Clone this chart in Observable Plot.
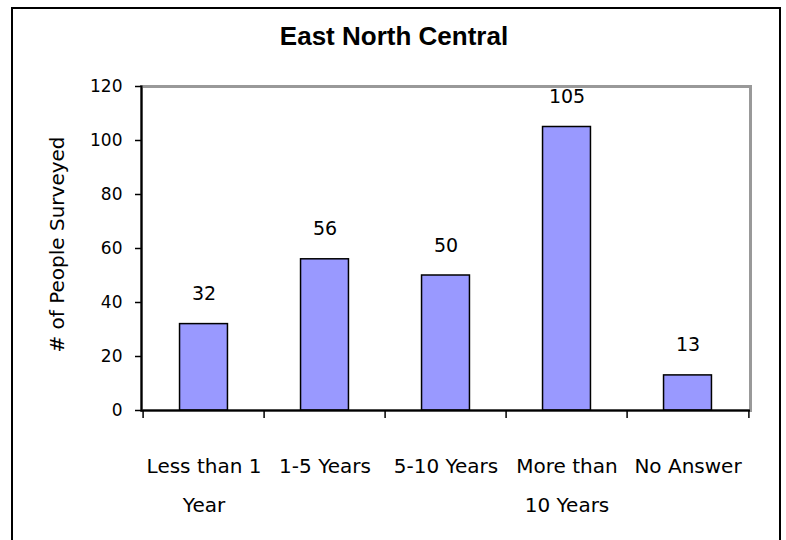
<!DOCTYPE html>
<html>
<head>
<meta charset="utf-8">
<script src="https://cdn.jsdelivr.net/npm/d3@7"></script>
<script src="https://cdn.jsdelivr.net/npm/@observablehq/plot@0.6"></script>
<style>
  html, body { margin: 0; padding: 0; background: #fff; }
  body { width: 786px; height: 540px; overflow: hidden; position: relative; }
  #frame { position: absolute; left: 11px; top: 7px; width: 770px; height: 600px; border: 2px solid #000; box-sizing: border-box; }
  #title { position: absolute; left: 0; top: 23px; width: 788px; text-align: center;
           font: bold 26px "Liberation Sans", Arial, sans-serif; line-height: 26px; color: #000; }
  #chart { position: absolute; left: 0; top: 0; }
</style>
</head>
<body>
<div id="frame"></div>
<div id="chart"></div>
<div id="title">East North Central</div>
<script>
const categories = ["Less than 1\nYear", "1-5 Years", "5-10 Years", "More than\n10 Years", "No Answer"];
const values = [32, 56, 50, 105, 13];
const yTicks = [0, 20, 40, 60, 80, 100, 120];
const yTitle = "# of People Surveyed";

const data = categories.map((c, i) => ({category: c, value: values[i]}));

const W = 786, H = 540;
const mL = 141, mR = 36, mT = 86, mB = 130;
const step = (W - mL - mR) / categories.length;
const font = "DejaVu Sans, Verdana, sans-serif";

const chart = Plot.plot({
  width: W,
  height: H,
  marginLeft: mL,
  marginRight: mR,
  marginTop: mT,
  marginBottom: mB,
  style: {fontFamily: font, background: "transparent", color: "#000"},
  x: {domain: categories, padding: 0, axis: null},
  y: {domain: [0, 120], axis: null},
  marks: [
    Plot.frame({stroke: "#999", strokeWidth: 3}),
    Plot.barY(data, {x: "category", y: "value", fill: "#9999ff", stroke: "#000", strokeWidth: 1.5,
                     insetLeft: step * 0.3, insetRight: step * 0.3}),
    Plot.frame({anchor: "left", stroke: "#000", strokeWidth: 2}),
    Plot.ruleY([0], {stroke: "#000", strokeWidth: 2}),
    Plot.axisY(yTicks, {label: null, tickSize: 6, tickPadding: 13, fontSize: 17, strokeWidth: 1.5, tickFormat: d => String(d)}),
    Plot.axisX(categories, {label: null, tickSize: 8, tickFormat: () => "", dx: -step / 2, strokeWidth: 1.5}),
    Plot.axisX([categories[categories.length - 1]], {label: null, tickSize: 8, tickFormat: () => "", dx: step / 2, strokeWidth: 1.5}),
    Plot.axisX(categories, {label: null, tickSize: 0, tickPadding: 35, fontSize: 20, lineHeight: 1.95, tickFormat: d => d}),
    Plot.text(data, {x: "category", y: "value", text: d => String(d.value), dy: -30, fontSize: 19, fill: "#000"}),
    Plot.text([yTitle], {frameAnchor: "left", textAnchor: "middle", rotate: -90, dx: -84, dy: -4, fontSize: 20, fill: "#000"})
  ]
});
document.getElementById("chart").appendChild(chart);
</script>
</body>
</html>
